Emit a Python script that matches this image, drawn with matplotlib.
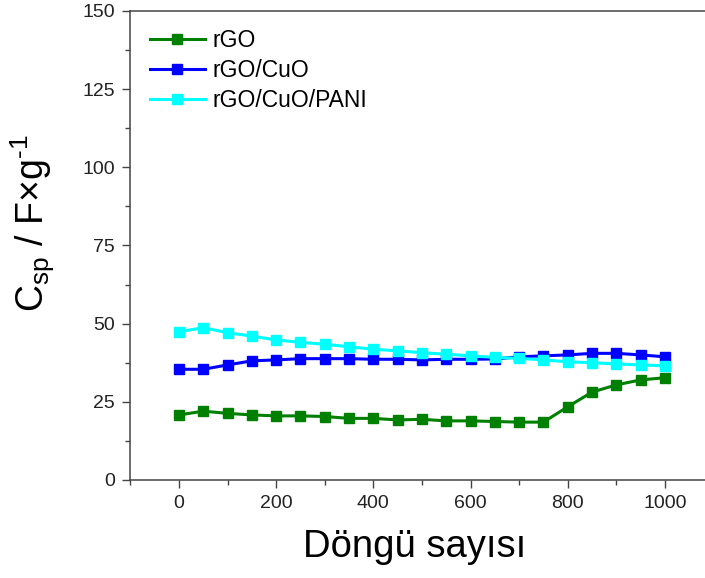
import matplotlib
matplotlib.use("Agg")
from matplotlib import pyplot as plt
from matplotlib.ticker import MultipleLocator

plt.rcParams['font.family'] = ['Liberation Sans', 'DejaVu Sans']
plt.rcParams['mathtext.fontset'] = 'custom'
plt.rcParams['mathtext.rm'] = 'Liberation Sans'

# cycle number
ciclos = [0, 50, 100, 150, 200, 250, 300, 350, 400, 450, 500,
          550, 600, 650, 700, 750, 800, 850, 900, 950, 1000]

# specific capacitance (F/g)
csp_rGO = [20.8, 22.0, 21.3, 20.8, 20.5, 20.5, 20.3, 19.7, 19.7, 19.2, 19.4,
           18.9, 18.9, 18.7, 18.5, 18.5, 23.4, 28.1, 30.4, 32.0, 32.7]
csp_rGO_CuO = [35.4, 35.4, 36.8, 38.1, 38.4, 38.8, 38.8, 38.8, 38.6, 38.6, 38.4,
               38.6, 38.6, 38.7, 39.4, 39.7, 40.0, 40.5, 40.5, 40.0, 39.4]
csp_rGO_CuO_PANI = [47.4, 48.7, 47.1, 46.0, 44.8, 44.0, 43.4, 42.6, 41.8, 41.3, 40.7,
                    40.2, 39.7, 39.2, 38.9, 38.4, 37.8, 37.5, 37.1, 36.8, 36.5]

etiquetas = ["rGO", "rGO/CuO", "rGO/CuO/PANI"]
colores = ["#008000", "#0000ff", "#00ffff"]

fig = plt.figure(figsize=(7.05, 5.78), dpi=100)
ax = fig.add_axes([0.185, 0.1696, 0.827, 0.8114])

for datos, lab, col in zip([csp_rGO, csp_rGO_CuO, csp_rGO_CuO_PANI], etiquetas, colores):
    ax.plot(ciclos, datos, color=col, marker="s", markersize=7, linewidth=2.2, label=lab)

ax.set_xlim(-100, 1100)
ax.set_ylim(0, 150)
ax.xaxis.set_major_locator(MultipleLocator(200))
ax.xaxis.set_minor_locator(MultipleLocator(100))
ax.yaxis.set_major_locator(MultipleLocator(25))
ax.yaxis.set_minor_locator(MultipleLocator(12.5))

# sin eje derecho, el superior sin marcas
ax.spines['right'].set_visible(False)
for s in ['left', 'bottom', 'top']:
    ax.spines[s].set_color("#444444")
    ax.spines[s].set_linewidth(1.1)

ax.tick_params(which='both', direction='out', colors="#444444", labelcolor="#222222", width=1.0)
ax.tick_params(which='major', length=6, labelsize=14)
ax.tick_params(which='minor', length=3.5)
ax.tick_params(axis='x', which='major', pad=5)
ax.tick_params(axis='y', which='major', pad=5)

ax.set_xlabel("Döngü sayısı", fontsize=27.5)
ax.xaxis.set_label_coords(0.488, -0.105)
ax.set_ylabel(r"C$_{\mathregular{sp}}$ / F×g$^{\text{-1}}$", fontsize=27)
ax.yaxis.set_label_coords(-0.126, 0.548)

ax.legend(loc="upper left", bbox_to_anchor=(0.033, 0.962), frameon=False, fontsize=16.5,
          handlelength=2.4, handletextpad=0.35, labelspacing=0.3,
          borderaxespad=0, borderpad=0)

fig.savefig("out.png", dpi=100)
